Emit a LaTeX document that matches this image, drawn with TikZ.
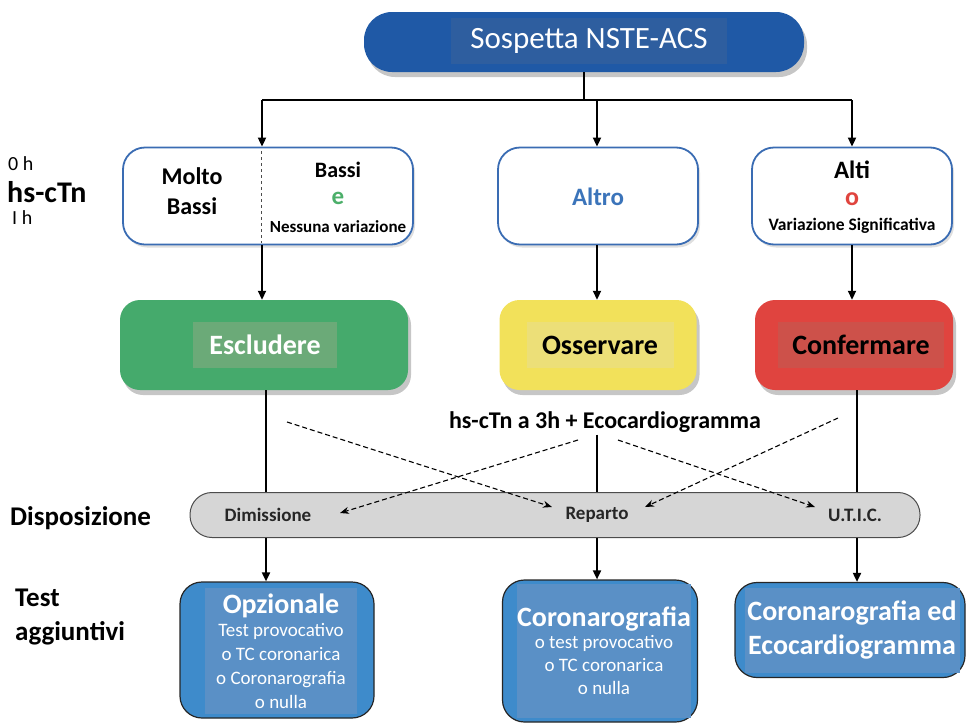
\documentclass[tikz,border=0pt]{standalone}
\usepackage{fontspec}
\setmainfont{Carlito}
\usetikzlibrary{arrows.meta,shadows}
\definecolor{topblue}{HTML}{1F59A6}
\definecolor{topinner}{HTML}{2E5E9F}
\definecolor{frameblue}{HTML}{3A6CB3}
\definecolor{okgreen}{HTML}{45AA6C}
\definecolor{okgreenin}{HTML}{6BAA78}
\definecolor{warnyellow}{HTML}{F2E15A}
\definecolor{warnyellowin}{HTML}{ECDF78}
\definecolor{alertred}{HTML}{E0443F}
\definecolor{alertredin}{HTML}{CD514A}
\definecolor{testblue}{HTML}{3E8BCB}
\definecolor{testbluein}{HTML}{5A90C6}
\definecolor{barfill}{HTML}{D6D6D6}
\definecolor{textblue}{HTML}{3B74BA}
\definecolor{egreen}{HTML}{4CAF6A}
\definecolor{ored}{HTML}{E0443E}
\newcommand{\fs}[1]{\fontsize{#1}{#1}\selectfont}
\begin{document}
\begin{tikzpicture}[x=1pt,y=-1pt,
  arr/.style={line width=1.8pt,-{Triangle[length=9pt,width=8pt]}},
  conn/.style={line width=1.8pt},
  darr/.style={dash pattern=on 5pt off 3pt,line width=1.1pt,-{Stealth[length=9pt,width=7pt]}},
  shad/.style={drop shadow={opacity=0.45,shadow xshift=3pt,shadow yshift=-5pt}},
  topbox/.style={rounded corners=28pt,fill=topblue,shad,inner sep=0pt},
  whitebox/.style={rounded corners=22pt,draw=frameblue,line width=1.8pt,fill=white,
     drop shadow={opacity=0.25,shadow xshift=2pt,shadow yshift=-3pt},inner sep=0pt},
  colbox/.style={rounded corners=20pt,shad,inner sep=0pt},
  inlbl/.style={inner sep=0pt,font=\bfseries\fs{28}},
  testbox/.style={rounded corners=22pt,draw=black!85,line width=1.2pt,fill=testblue,inner sep=0pt},
  testin/.style={fill=testbluein,inner sep=0pt,text=white,align=center},
  side/.style={anchor=west,font=\bfseries\fs{27},align=left,inner sep=0pt},
  barlbl/.style={font=\bfseries\fs{19},text=black!85,inner sep=1pt}
]
\useasboundingbox (0,0) rectangle (968,726);

% top
\node[topbox,minimum width=440pt,minimum height=60pt] (top) at (584,42) {};
\node[fill=topinner,minimum width=276pt,minimum height=46pt,text=white,font=\fs{31},inner sep=0pt] (toplbl) at (589,41) {Sospetta NSTE-ACS};

% junction
\coordinate (h1) at (262,100);
\coordinate (h2) at (597,100);
\coordinate (h3) at (852,100);

% row 2
\node[whitebox,minimum width=290pt,minimum height=97pt] (b1) at (268,196) {};
\node[whitebox,minimum width=200pt,minimum height=97pt] (b2) at (598,196) {};
\node[whitebox,minimum width=200pt,minimum height=97pt] (b3) at (852,196) {};
\draw[dashed,black!70,line width=0.8pt] (261,151) -- (261,243);
\node[font=\bfseries\fs{24},align=center,inner sep=0pt] (molto) at (192,191) {Molto\\[6pt]Bassi};
\node[font=\bfseries\fs{22},inner sep=0pt] (bassi) at (338,170) {Bassi};
\node[font=\bfseries\fs{25},text=egreen,inner sep=0pt] (ee) at (338,198) {e};
\node[font=\bfseries\fs{17},inner sep=0pt] (nessuna) at (338,227) {Nessuna variazione};
\node[font=\bfseries\fs{25},text=textblue,inner sep=0pt] (altro) at (598,197) {Altro};
\node[font=\bfseries\fs{25},inner sep=0pt] (alti) at (852,170) {Alti};
\node[font=\bfseries\fs{26},text=ored,inner sep=0pt] (oo) at (852,199) {o};
\node[font=\bfseries\fs{17.5},inner sep=0pt] (varsig) at (852,226) {Variazione Significativa};

% row 3
\node[colbox,fill=okgreen,minimum width=288pt,minimum height=90pt] (g) at (264,345) {};
\node[colbox,fill=warnyellow,minimum width=197pt,minimum height=90pt] (y) at (598,345) {};
\node[colbox,fill=alertred,minimum width=198pt,minimum height=90pt] (r) at (854,345) {};
\node[inlbl,fill=okgreenin,text=white,minimum width=144pt,minimum height=46pt] (gl) at (265,345) {Escludere};
\node[inlbl,fill=warnyellowin,text=black,minimum width=147pt,minimum height=46pt] (yl) at (600,345) {Osservare};
\node[inlbl,fill=alertredin,text=black,minimum width=166pt,minimum height=46pt] (rl) at (861,345) {Confermare};

% side labels
\node[anchor=west,font=\fs{20},inner sep=0pt] (zh) at (8,164) {0 h};
\node[anchor=west,font=\bfseries\fs{30},inner sep=0pt] (hs) at (7,192) {hs-cTn};
\node[anchor=west,font=\fs{20},inner sep=0pt] (ih) at (12,218) {I h};
\node[side] (disp) at (10,518) {Disposizione};
\node[side] (test) at (15,617) {Test\\[7pt]aggiuntivi};

% eco text
\node[font=\bfseries\fs{24},inner sep=2pt] (eco) at (605,422) {hs-cTn a 3h + Ecocardiogramma};

% bar
\node[rounded corners=22pt,draw=black!70,line width=1pt,fill=barfill,minimum width=730pt,minimum height=45pt,inner sep=0pt] (bar) at (555,515) {};
\node[barlbl] (dim) at (268,515) {Dimissione};
\node[barlbl] (rep) at (597,515) {Reparto};
\node[barlbl] (utic) at (855,515) {U.T.I.C.};

% row 5
\node[testbox,minimum width=194pt,minimum height=136pt] (o1) at (277,650) {};
\node[testbox,minimum width=195pt,minimum height=142pt] (o2) at (600,651) {};
\node[testbox,minimum width=230pt,minimum height=95pt] (o3) at (850,630) {};
\node[testin,minimum width=152pt,minimum height=126pt,font=\fs{19}] (o1l) at (281,651)
  {{\bfseries\fs{28}Opzionale}\\[4pt]Test provocativo\\[5pt]o TC coronarica\\[5pt]o Coronarografia\\[5pt]o nulla};
\node[testin,minimum width=168pt,minimum height=134pt,font=\fs{19}] (o2l) at (604,651)
  {{\bfseries\fs{28}Coronarografia}\\[3pt]o test provocativo\\[4pt]o TC coronarica\\[4pt]o nulla};
\node[testin,minimum width=215pt,minimum height=85pt,font=\bfseries\fs{28}] (o3l) at (852,630)
  {Coronarografia ed\\[6pt]Ecocardiogramma};

% connectors
\draw[conn] (top.south) -- (top.south |- h1);
\draw[conn] (h1) -- (h3);
\draw[arr] (h1) -- (b1.north -| h1);
\draw[arr] (h2) -- (b2.north -| h2);
\draw[arr] (h3) -- (b3.north -| h3);
\draw[arr] (b1.south -| h1) -- (g.north -| h1);
\draw[arr] (b2.south -| h2) -- (y.north -| h2);
\draw[arr] (b3.south -| h3) -- (r.north -| h3);

\coordinate (v1) at (266,0);
\coordinate (v2) at (597,0);
\coordinate (v3) at (857,0);
\draw[line width=1.5pt] (g.south -| v1) -- (bar.north -| v1);
\draw[line width=1.5pt] (eco.south -| v2) -- (bar.north -| v2);
\draw[line width=1.5pt] (r.south -| v3) -- (bar.north -| v3);
\draw[arr] (bar.south -| v1) -- (o1.north -| v1);
\draw[arr] (bar.south -| v2) -- (o2.north -| v2);
\draw[arr] (bar.south -| v3) -- (o3.north -| v3);

\coordinate (d1s) at (287,422); \coordinate (d1e) at (552,507);
\coordinate (d2s) at (578,440); \coordinate (d2e) at (340,513);
\coordinate (d3s) at (618,440); \coordinate (d3e) at (815,507);
\coordinate (d4s) at (838,418); \coordinate (d4e) at (645,507);
\draw[darr] (d1s) -- (d1e);
\draw[darr] (d2s) -- (d2e);
\draw[darr] (d3s) -- (d3e);
\draw[darr] (d4s) -- (d4e);
\end{tikzpicture}
\end{document}
